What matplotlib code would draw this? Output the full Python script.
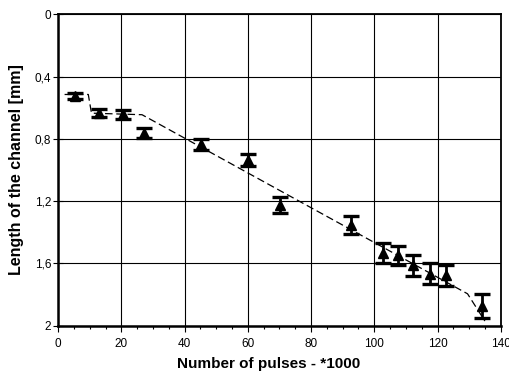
import matplotlib
matplotlib.use("Agg")
import matplotlib.pyplot as plt
from matplotlib.ticker import MultipleLocator, FuncFormatter

plt.rcParams['font.family'] = ['Liberation Sans', 'DejaVu Sans']

# measured points (pulses *1000, channel length mm, error)
pulses = [5.4, 12.9, 20.6, 27.2, 45.2, 60.1, 70.2, 92.6, 102.7, 107.6, 112.3, 117.6, 122.7, 134.2]
length = [0.523, 0.633, 0.643, 0.761, 0.836, 0.937, 1.226, 1.355, 1.533, 1.548, 1.612, 1.666, 1.677, 1.876]
err = [0.02, 0.026, 0.028, 0.032, 0.037, 0.038, 0.052, 0.059, 0.062, 0.063, 0.066, 0.066, 0.068, 0.077]

# dashed trend line
fit_x = [2.0, 9.5, 10.5, 26.5, 129.5, 135.0]
fit_y = [0.515, 0.515, 0.635, 0.645, 1.795, 1.97]

fig = plt.figure(figsize=(5.09, 3.71), dpi=100)
ax = fig.add_axes([0.1145, 0.1221, 0.8692, 0.8394])

ax.plot(fit_x, fit_y, color="black", linestyle=(0, (6, 3)), linewidth=0.9, zorder=3)
ax.errorbar(pulses, length, yerr=err, fmt="^", color="black", markersize=7,
            ecolor="black", elinewidth=2.0, capsize=5.5, capthick=2.4, zorder=4)

ax.set_xlim(0, 140)
ax.set_ylim(2, 0)
ax.xaxis.set_major_locator(MultipleLocator(20))
ax.xaxis.set_minor_locator(MultipleLocator(5))
ax.yaxis.set_major_locator(MultipleLocator(0.4))
ax.yaxis.set_major_formatter(FuncFormatter(lambda v, p: ("%g" % round(v, 1)).replace(".", ",")))

ax.grid(True, which="major", color="black", linewidth=0.8)
ax.set_axisbelow(True)
for s in ax.spines.values():
    s.set_linewidth(1.3)
ax.spines["left"].set_linewidth(1.8)
ax.spines["bottom"].set_linewidth(1.8)

ax.tick_params(axis="x", which="major", direction="out", length=4, width=0.8, labelsize=8.5, pad=5)
ax.tick_params(axis="x", which="minor", direction="out", length=2.5, width=0.8)
ax.tick_params(axis="y", which="major", direction="inout", length=7, width=0.8, labelsize=8.5, pad=1.5)

ax.set_xlabel("Number of pulses - *1000", fontsize=11, fontweight="bold", labelpad=5)
ax.xaxis.label.set_x(0.476)
ax.set_ylabel("Length of the channel [mm]", fontsize=11.5, fontweight="bold", labelpad=8)

fig.savefig("out.png", dpi=100)
